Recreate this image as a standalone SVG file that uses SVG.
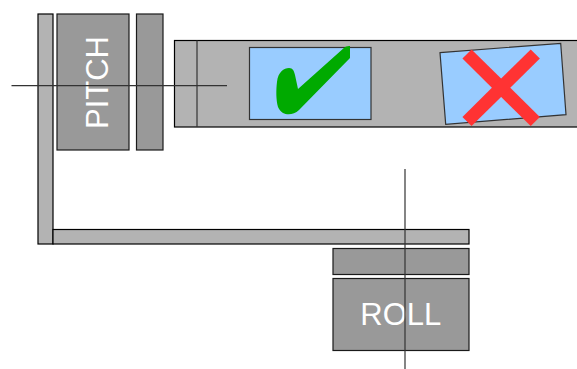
<svg xmlns="http://www.w3.org/2000/svg" width="577" height="369" viewBox="0 0 577 369">
<style>
.lt{fill:#b3b3b3;stroke:#000;stroke-width:1.2}
.dk{fill:#999999;stroke:#1a1a1a;stroke-width:1.2}
.ax{stroke:#333;stroke-width:1.2;fill:none}
.lbl{font-family:"Liberation Sans",Arial,sans-serif;font-size:31px;fill:#fff}
.img{fill:#99ccff;stroke:#333;stroke-width:1.2}
</style>
<rect width="577" height="369" fill="#fff"/>
<g id="camera">
<rect class="lt" x="174.5" y="40.5" width="410" height="86.5"/>
<line x1="197" y1="40.5" x2="197" y2="127" stroke="#333" stroke-width="1.2"/>
</g>
<g id="image-ok">
<rect class="img" x="249.5" y="47.5" width="121.5" height="72"/>
<path fill="#00aa00" d="M278,107 C276,100 276,90 277,82 C278,72 284,68 289,68 C293,68 294,71 295,75 L298,89 L345,47 C347,46 349,46 350,46 L350,58 L299,110 C294,115 287,115 283,113 C280,111 279,109 278,107 Z"/>
</g>
<g id="image-bad">
<polygon class="img" points="440,52.7 560.7,43.3 566,114.7 445.7,124.3" stroke="#000"/>
<g stroke="#ff3333" stroke-width="13" stroke-linecap="butt">
<line x1="467" y1="54" x2="535.3" y2="121.5"/>
<line x1="535.3" y1="54" x2="467" y2="121.5"/>
</g>
</g>
<g id="pitch-frame">
<rect class="lt" x="38" y="14" width="15" height="230"/>
<rect class="lt" x="53" y="229.5" width="416" height="14.5"/>
</g>
<g id="pitch">
<rect class="dk" x="57" y="14" width="72" height="136"/>
<text class="lbl" transform="translate(108.3,82.5) rotate(-90)" text-anchor="middle">PITCH</text>
</g>
<g id="pitch-bar">
<rect class="dk" x="136.5" y="14" width="26.5" height="136"/>
</g>
<g id="roll-bar">
<rect class="dk" x="333" y="248.5" width="136" height="26"/>
</g>
<g id="roll">
<rect class="dk" x="333" y="278.5" width="136" height="72"/>
<text class="lbl" x="400.8" y="325" text-anchor="middle">ROLL</text>
</g>
<g id="connectors">
<line class="ax" x1="11.5" y1="85.7" x2="227" y2="85.7"/>
<line class="ax" x1="405" y1="169" x2="405" y2="369"/>
</g>
</svg>
